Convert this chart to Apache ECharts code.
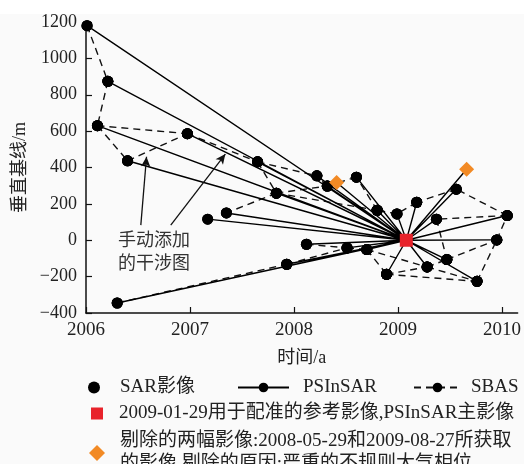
<!DOCTYPE html>
<html>
<head>
<meta charset="utf-8">
<script src="https://cdn.jsdelivr.net/npm/echarts@6/dist/echarts.min.js"></script>
<style>
  html, body { margin: 0; padding: 0; background: #fff; }
  #chart { width: 524px; height: 464px; }
</style>
</head>
<body>
<div id="chart"></div>
<script>
// SAR影像: 时间(年) 与 垂直基线(m)
var dates = [2006.01, 2006.21, 2006.11, 2006.40, 2006.30, 2006.975, 2007.17, 2007.35, 2007.65, 2007.83,
  2007.93, 2008.12, 2008.22, 2008.32, 2008.51, 2008.60, 2008.70, 2008.80, 2008.89, 2008.99,
  2009.18, 2009.28, 2009.37, 2009.47, 2009.56, 2009.76, 2009.95, 2010.05];
var baselines = [1180, 874, 630, 437, -345, 586, 116, 150, 431, 259,
  -132, -22, 354, 298, -42, 347, -51, 165, -187, 145,
  209, -147, 116, -106, 281, -226, 2, 136];

// 主影像 2009-01-29
var masterDate = 2009.08;
var masterBase = 0;

// 剔除的两幅影像 2008-05-29, 2009-08-27
var removedDates = [2008.41, 2009.66];
var removedBases = [318, 390];

// SBAS 干涉对 (影像序号)
var sbasPairs = [[0, 1], [1, 2], [2, 5], [2, 3], [3, 5], [5, 8], [8, 9], [8, 12], [9, 7], [9, 13],
  [4, 10], [10, 14], [11, 14], [14, 16], [16, 18], [18, 21], [18, 25], [21, 25], [21, 23], [23, 26],
  [25, 26], [26, 27], [27, 24], [27, 22], [24, 20], [20, 19], [19, 17], [17, 15], [15, 13], [13, 12],
  [22, 23], [16, 21], [9, 17]];

var xTicks = [2006, 2007, 2008, 2009, 2010];
var yTicks = [-400, -200, 0, 200, 400, 600, 800, 1000, 1200];

var serifFont = "'Liberation Serif', 'Noto Sans CJK SC', serif";
var txtColor = "#222";

var sarData = [];
for (var i = 0; i < dates.length; i++) {
  sarData.push([dates[i], baselines[i]]);
}

// PSInSAR: 每幅影像与主影像连线
var psData = [];
for (var i = 0; i < dates.length; i++) {
  psData.push([masterDate, masterBase]);
  psData.push([dates[i], baselines[i]]);
  psData.push(null);
}
for (var j = 0; j < removedDates.length; j++) {
  psData.push({ value: [masterDate, masterBase], symbol: "none" });
  psData.push({ value: [removedDates[j], removedBases[j]], symbol: "none" });
  psData.push(null);
}

var sbasData = [];
for (var k = 0; k < sbasPairs.length; k++) {
  var a = sbasPairs[k][0], b = sbasPairs[k][1];
  sbasData.push([dates[a], baselines[a]]);
  sbasData.push([dates[b], baselines[b]]);
  sbasData.push(null);
}

var removedData = [];
for (var j = 0; j < removedDates.length; j++) {
  removedData.push([removedDates[j], removedBases[j]]);
}

var masterName = "2009-01-29用于配准的参考影像,PSInSAR主影像";
var removedName = "剔除的两幅影像:2008-05-29和2009-08-27所获取\n的影像,剔除的原因:严重的不规则大气相位";

var legendText = { fontFamily: serifFont, fontSize: 19, color: txtColor };

var option = {
  backgroundColor: "#fafafa",
  animation: false,
  grid: { left: 86, right: 5, top: 22, bottom: 151 },
  xAxis: {
    type: "value",
    min: 2006,
    max: 2010.15,
    interval: 1,
    name: "时间/a",
    nameLocation: "middle",
    nameGap: 36,
    nameTextStyle: { fontFamily: serifFont, fontSize: 18, color: txtColor },
    axisLine: { onZero: false, lineStyle: { color: "#111", width: 1.5 } },
    axisTick: { inside: true, length: 6, customValues: xTicks, lineStyle: { color: "#111", width: 1.2 } },
    axisLabel: {
      customValues: xTicks, fontFamily: serifFont, fontSize: 19, color: txtColor, margin: 8,
      formatter: function (v) { return String(v); }
    },
    splitLine: { show: false }
  },
  yAxis: {
    type: "value",
    min: -400,
    max: 1200,
    interval: 200,
    name: "垂直基线/m",
    nameLocation: "middle",
    nameGap: 55,
    nameTextStyle: { fontFamily: serifFont, fontSize: 18, color: txtColor },
    axisLine: { show: true, onZero: false, lineStyle: { color: "#111", width: 1.5 } },
    axisTick: { show: true, inside: true, length: 6, customValues: yTicks, lineStyle: { color: "#111", width: 1.2 } },
    axisLabel: {
      customValues: yTicks, fontFamily: serifFont, fontSize: 18, color: txtColor, margin: 9,
      formatter: function (v) { return v < 0 ? "\u2212" + Math.abs(v) : String(v); }
    },
    splitLine: { show: false }
  },
  legend: [
    {
      data: ["SAR影像"], left: 83, top: 373, itemWidth: 12, itemHeight: 12,
      textStyle: Object.assign({ padding: [0, 0, 0, 15] }, legendText)
    },
    {
      data: ["PSInSAR"], left: 232, top: 373, itemWidth: 51, itemHeight: 12,
      textStyle: Object.assign({ padding: [0, 0, 0, 9] }, legendText)
    },
    {
      data: ["SBAS"], left: 408, top: 373, itemWidth: 47, itemHeight: 12,
      textStyle: Object.assign({ padding: [0, 0, 0, 5] }, legendText)
    },
    {
      data: [masterName], left: 86, top: 399, itemWidth: 12, itemHeight: 12,
      textStyle: Object.assign({ padding: [0, 0, 0, 11] }, legendText)
    },
    {
      data: [removedName], left: 84, top: 425, itemWidth: 16, itemHeight: 16,
      textStyle: Object.assign({ padding: [0, 0, 0, 10], lineHeight: 23 }, legendText)
    }
  ],
  graphic: [
    { type: "rect", left: 0, top: 0, shape: { width: 524, height: 14 }, style: { fill: "#fff" }, silent: true },
    {
      type: "text", left: 118, top: 228,
      style: { text: "手动添加\n的干涉图", fontFamily: "'Noto Sans CJK SC'", fontSize: 18, lineHeight: 23, fill: "#333" }
    }
  ],
  series: [
    {
      name: "SBAS",
      type: "line",
      data: sbasData,
      symbol: "circle",
      symbolSize: 11,
      itemStyle: { color: "#000" },
      lineStyle: { color: "#111", width: 1.4, type: [7, 5] },
      connectNulls: false,
      z: 2
    },
    {
      name: "PSInSAR",
      type: "line",
      data: psData,
      symbol: "circle",
      symbolSize: 11,
      itemStyle: { color: "#000" },
      lineStyle: { color: "#000", width: 1.4 },
      connectNulls: false,
      z: 3
    },
    {
      name: "annotation",
      type: "line",
      data: [],
      markLine: {
        silent: true,
        symbol: ["none", "arrow"],
        symbolSize: [7, 10],
        label: { show: false },
        lineStyle: { color: "#111", width: 1.3, type: "solid" },
        data: [
          [{ coord: [2006.527, 83] }, { coord: [2006.582, 459] }],
          [{ coord: [2006.815, 83] }, { coord: [2007.34, 474] }]
        ]
      },
      z: 4
    },
    {
      name: "SAR影像",
      type: "scatter",
      data: sarData,
      symbol: "circle",
      symbolSize: 11,
      itemStyle: { color: "#000", opacity: 1 },
      z: 5
    },
    {
      name: masterName,
      type: "scatter",
      data: [[masterDate, masterBase]],
      symbol: "rect",
      symbolSize: 13,
      itemStyle: { color: "#e8232b", opacity: 1 },
      z: 6
    },
    {
      name: removedName,
      type: "scatter",
      data: removedData,
      symbol: "diamond",
      symbolSize: 15,
      itemStyle: { color: "#f28a25", opacity: 1 },
      z: 6
    }
  ]
};

var myChart = echarts.init(document.getElementById("chart"));
myChart.setOption(option);
</script>
</body>
</html>
